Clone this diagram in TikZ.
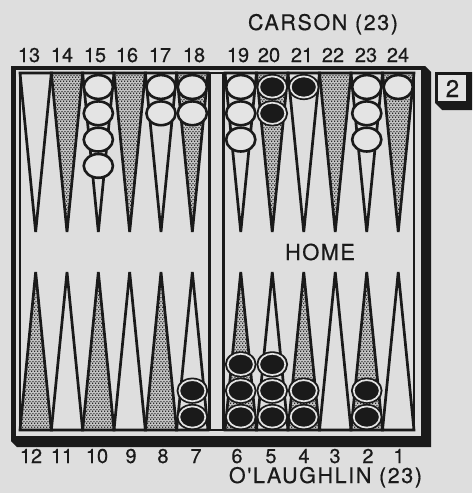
\documentclass[tikz,border=0pt]{standalone}
\usepackage{fontspec}
\setmainfont{TeX Gyre Heros}
\newfontfamily\numfont[FakeBold=0.5]{TeX Gyre Heros}
\newfontfamily\namefont[FakeBold=0.5,LetterSpace=7.5]{TeX Gyre Heros}
\newfontfamily\homefont[FakeBold=0.5,LetterSpace=6]{TeX Gyre Heros}
\usetikzlibrary{patterns}
\definecolor{paper}{HTML}{DEDEDE}
\definecolor{ink}{HTML}{1A1A1A}
\definecolor{chk}{HTML}{E4E4E4}
\definecolor{stipbg}{HTML}{C4C4C4}
\pgfdeclarepatternformonly{stip}{\pgfpoint{0pt}{0pt}}{\pgfpoint{3.2pt}{3.6pt}}{\pgfpoint{3.2pt}{3.6pt}}{%
 \pgfpathcircle{\pgfpoint{0.8pt}{0.9pt}}{0.85pt}%
 \pgfpathcircle{\pgfpoint{2.4pt}{2.7pt}}{0.85pt}%
 \pgfusepath{fill}}
\begin{document}
\begin{tikzpicture}[x=1pt,y=-1pt,
  plainpt/.style={draw=ink, line width=2.7pt, line join=miter},
  stippt/.style={draw=ink, line width=2.7pt, line join=miter, preaction={fill=stipbg}, pattern=stip, pattern color=ink},
  wchk/.style={draw=ink, line width=2.6pt, fill=chk},
  bchk/.style={fill=ink},
  ring/.style={draw=chk, line width=1.7pt},
  numlbl/.style={font=\numfont\fontsize{20}{20}\selectfont, inner sep=0pt, anchor=base, text=ink},
  namelbl/.style={font=\namefont\fontsize{21.5}{21.5}\selectfont, inner sep=0pt, anchor=base, text=ink}]
\useasboundingbox (0,0) rectangle (472,493);
\fill[paper] (0,0) rectangle (472,493);
% frame
\fill[ink] (11,66) -- (425,66) -- (431,72) -- (431,447) -- (17,447) -- (11,441) -- cycle;
\fill[paper] (15.5,70) rectangle (421,436);
\draw[ink, line width=2.2pt] (20,73) rectangle (414,430);
\draw[ink, line width=3pt] (209.5,73) -- (209.5,430);
\draw[ink, line width=3pt] (223.5,73) -- (223.5,430);
% left half points
\foreach \i/\s/\t in {0/plainpt/stippt,1/stippt/plainpt,2/plainpt/stippt,3/stippt/plainpt,4/plainpt/stippt,5/stippt/plainpt}{
  \pgfmathsetmacro\a{20+31.333*\i}
  \pgfmathsetmacro\b{\a+31.333}
  \pgfmathsetmacro\m{\a+15.667}
  \draw[\s] (\a,73) -- (\m,232) -- (\b,73) -- cycle;
  \draw[\t] (\a,430) -- (\m,272) -- (\b,430) -- cycle;
}
% right half points
\foreach \i/\s/\t in {0/plainpt/stippt,1/stippt/plainpt,2/plainpt/stippt,3/stippt/plainpt,4/plainpt/stippt,5/stippt/plainpt}{
  \pgfmathsetmacro\a{225+31.5*\i}
  \pgfmathsetmacro\b{\a+31.5}
  \pgfmathsetmacro\m{\a+15.75}
  \draw[\s] (\a,73) -- (\m,232) -- (\b,73) -- cycle;
  \draw[\t] (\a,430) -- (\m,272) -- (\b,430) -- cycle;
}
% white checkers
\foreach \x/\y in {98.33/87,98.33/113.3,98.33/139.6,98.33/165.9,
  161/87,161/113.3,192.33/87,192.33/113.3,
  240.75/87,240.75/113.3,240.75/139.6,
  366.75/87,366.75/113.3,366.75/139.6,398.25/87}{
  \draw[wchk] (\x,\y) ellipse [x radius=14.6, y radius=11.9];
}
% black checkers
\foreach \x/\y in {272.25/87,272.25/113.3,303.75/87,
  192.33/417,192.33/390.7,
  240.75/417,240.75/390.7,240.75/364.4,
  272.25/417,272.25/390.7,272.25/364.4,
  303.75/417,303.75/390.7,
  366.75/417,366.75/390.7}{
  \fill[bchk] (\x,\y) ellipse [x radius=15.8, y radius=13.1];
  \draw[ring] (\x,\y) ellipse [x radius=13.0, y radius=10.6];
}
% labels
\foreach \n/\x in {13/29,14/62,15/95,16/127,17/160,18/194,19/238,20/269,21/302,22/333,23/366,24/398}{
  \node[numlbl] (t\n) at (\x,62) {\n};
}
\foreach \n/\x in {12/31,11/62,10/97,9/131,8/163,7/196,6/237,5/271,4/304,3/335,2/368,1/399}{
  \node[numlbl] (b\n) at (\x,463) {\n};
}
\node[namelbl] (carson) at (323,30) {CARSON (23)};
\node[namelbl] (olaughlin) at (325.5,483) {O'LAUGHLIN (23)};
\node[font=\homefont\fontsize{22}{22}\selectfont, inner sep=0pt, anchor=base, text=ink] (home) at (320,260) {HOME};
% cube
\fill[ink] (435,72) -- (472,72) -- (472,110) -- (442,110) -- (435,103) -- cycle;
\fill[chk] (438,75) rectangle (466,101);
\node[font=\numfont\fontsize{24}{24}\selectfont, inner sep=0pt, anchor=base, text=ink] (cube) at (452.5,97) {2};
\end{tikzpicture}
\end{document}
